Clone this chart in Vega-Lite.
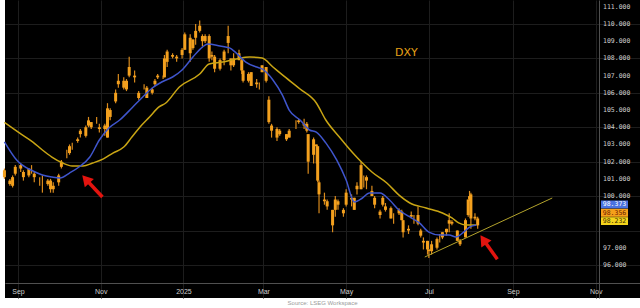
{
  "$schema": "https://vega.github.io/schema/vega-lite/v6.json",
  "width": 635,
  "height": 298,
  "autosize": {"type": "none"},
  "padding": {"left": 5, "top": 0, "right": 0, "bottom": 10},
  "background": "white",
  "config": {"view": {"fill": "black", "stroke": null}, "font": "Liberation Sans"},
  "title": {"text": "Source: LSEG Workspace", "orient": "bottom", "anchor": "middle", "fontSize": 6, "color": "#9a9a9a", "fontWeight": "normal", "offset": 2},
  "datasets": {
    "candles": [
      {"d":"2024-08-22","o":101.1,"h":101.6,"l":101.0,"c":101.5},
      {"d":"2024-08-26","o":100.7,"h":101.0,"l":100.6,"c":100.9},
      {"d":"2024-08-28","o":100.6,"h":101.2,"l":100.5,"c":101.1},
      {"d":"2024-08-30","o":101.3,"h":101.8,"l":101.2,"c":101.7},
      {"d":"2024-09-03","o":101.6,"h":101.9,"l":101.4,"c":101.8},
      {"d":"2024-09-05","o":101.4,"h":101.5,"l":100.9,"c":101.1},
      {"d":"2024-09-09","o":101.2,"h":101.6,"l":101.1,"c":101.6},
      {"d":"2024-09-11","o":101.6,"h":101.8,"l":101.3,"c":101.6},
      {"d":"2024-09-13","o":101.3,"h":101.4,"l":100.8,"c":101.1},
      {"d":"2024-09-17","o":100.9,"h":101.1,"l":100.6,"c":100.9},
      {"d":"2024-09-19","o":100.6,"h":101.2,"l":100.2,"c":100.6},
      {"d":"2024-09-23","o":100.7,"h":101.0,"l":100.6,"c":100.9},
      {"d":"2024-09-25","o":100.4,"h":101.0,"l":100.2,"c":100.9},
      {"d":"2024-09-27","o":100.6,"h":100.8,"l":100.2,"c":100.4},
      {"d":"2024-10-01","o":100.8,"h":101.3,"l":100.6,"c":101.2},
      {"d":"2024-10-03","o":101.7,"h":102.1,"l":101.6,"c":102.0},
      {"d":"2024-10-07","o":102.5,"h":102.7,"l":102.2,"c":102.5},
      {"d":"2024-10-09","o":102.5,"h":103.0,"l":102.4,"c":102.9},
      {"d":"2024-10-11","o":102.9,"h":103.1,"l":102.7,"c":102.9},
      {"d":"2024-10-15","o":103.2,"h":103.4,"l":103.1,"c":103.3},
      {"d":"2024-10-17","o":103.6,"h":103.9,"l":103.4,"c":103.8},
      {"d":"2024-10-21","o":103.5,"h":104.1,"l":103.4,"c":104.0},
      {"d":"2024-10-23","o":104.1,"h":104.6,"l":104.0,"c":104.4},
      {"d":"2024-10-25","o":104.0,"h":104.3,"l":103.9,"c":104.3},
      {"d":"2024-10-29","o":104.3,"h":104.6,"l":104.2,"c":104.3},
      {"d":"2024-10-31","o":104.0,"h":104.2,"l":103.7,"c":103.9},
      {"d":"2024-11-04","o":104.1,"h":104.2,"l":103.5,"c":103.9},
      {"d":"2024-11-06","o":103.4,"h":105.4,"l":103.4,"c":105.1},
      {"d":"2024-11-08","o":104.6,"h":105.1,"l":104.4,"c":105.0},
      {"d":"2024-11-12","o":105.5,"h":106.2,"l":105.4,"c":106.0},
      {"d":"2024-11-14","o":106.5,"h":107.1,"l":106.3,"c":106.7},
      {"d":"2024-11-18","o":106.7,"h":106.9,"l":106.2,"c":106.3},
      {"d":"2024-11-20","o":106.2,"h":106.8,"l":106.1,"c":106.7},
      {"d":"2024-11-22","o":107.0,"h":108.1,"l":106.9,"c":107.5},
      {"d":"2024-11-26","o":107.0,"h":107.3,"l":106.6,"c":106.9},
      {"d":"2024-11-29","o":106.0,"h":106.1,"l":105.6,"c":105.7},
      {"d":"2024-12-03","o":106.4,"h":106.5,"l":106.2,"c":106.4},
      {"d":"2024-12-05","o":106.3,"h":106.4,"l":105.8,"c":105.7},
      {"d":"2024-12-09","o":106.0,"h":106.3,"l":105.9,"c":106.2},
      {"d":"2024-12-11","o":106.5,"h":106.8,"l":106.4,"c":106.7},
      {"d":"2024-12-13","o":106.9,"h":107.1,"l":106.8,"c":107.0},
      {"d":"2024-12-17","o":106.9,"h":107.0,"l":106.8,"c":106.9},
      {"d":"2024-12-18","o":106.9,"h":108.2,"l":106.9,"c":108.0},
      {"d":"2024-12-20","o":108.4,"h":108.5,"l":107.5,"c":107.8},
      {"d":"2024-12-24","o":108.1,"h":108.3,"l":108.0,"c":108.2},
      {"d":"2024-12-27","o":108.1,"h":108.2,"l":107.8,"c":108.0},
      {"d":"2024-12-31","o":108.2,"h":108.6,"l":108.0,"c":108.5},
      {"d":"2025-01-02","o":108.5,"h":109.5,"l":108.5,"c":109.4},
      {"d":"2025-01-06","o":109.2,"h":109.4,"l":107.8,"c":108.3},
      {"d":"2025-01-08","o":108.6,"h":109.1,"l":108.5,"c":109.1},
      {"d":"2025-01-10","o":109.2,"h":110.0,"l":108.8,"c":109.6},
      {"d":"2025-01-13","o":109.6,"h":110.2,"l":109.5,"c":109.9},
      {"d":"2025-01-15","o":109.3,"h":109.4,"l":108.7,"c":109.0},
      {"d":"2025-01-17","o":109.0,"h":109.4,"l":108.9,"c":109.3},
      {"d":"2025-01-20","o":109.3,"h":109.4,"l":107.8,"c":108.0},
      {"d":"2025-01-22","o":108.1,"h":108.4,"l":107.9,"c":108.2},
      {"d":"2025-01-24","o":108.1,"h":108.2,"l":107.2,"c":107.4},
      {"d":"2025-01-28","o":107.4,"h":108.0,"l":107.3,"c":107.9},
      {"d":"2025-01-31","o":107.9,"h":108.5,"l":107.6,"c":108.4},
      {"d":"2025-02-03","o":109.3,"h":109.9,"l":108.3,"c":108.9},
      {"d":"2025-02-05","o":108.0,"h":108.0,"l":107.3,"c":107.6},
      {"d":"2025-02-07","o":107.6,"h":108.3,"l":107.5,"c":108.0},
      {"d":"2025-02-11","o":108.3,"h":108.5,"l":107.9,"c":107.9},
      {"d":"2025-02-13","o":107.9,"h":108.0,"l":107.1,"c":107.3},
      {"d":"2025-02-14","o":107.3,"h":107.3,"l":106.6,"c":106.7},
      {"d":"2025-02-18","o":106.7,"h":107.2,"l":106.6,"c":107.1},
      {"d":"2025-02-20","o":107.2,"h":107.2,"l":106.4,"c":106.4},
      {"d":"2025-02-24","o":106.5,"h":106.8,"l":106.3,"c":106.6},
      {"d":"2025-02-26","o":106.4,"h":106.6,"l":106.2,"c":106.4},
      {"d":"2025-02-28","o":107.2,"h":107.6,"l":107.2,"c":107.6},
      {"d":"2025-03-03","o":107.5,"h":107.5,"l":106.6,"c":106.7},
      {"d":"2025-03-05","o":105.6,"h":105.8,"l":104.2,"c":104.3},
      {"d":"2025-03-07","o":104.1,"h":104.2,"l":103.4,"c":103.8},
      {"d":"2025-03-11","o":103.9,"h":104.0,"l":103.2,"c":103.4},
      {"d":"2025-03-13","o":103.6,"h":103.9,"l":103.5,"c":103.8},
      {"d":"2025-03-18","o":103.6,"h":103.6,"l":103.2,"c":103.3},
      {"d":"2025-03-20","o":103.4,"h":103.9,"l":103.4,"c":103.8},
      {"d":"2025-03-25","o":104.2,"h":104.4,"l":103.9,"c":104.2},
      {"d":"2025-03-27","o":104.4,"h":104.5,"l":104.2,"c":104.3},
      {"d":"2025-03-31","o":104.1,"h":104.5,"l":103.9,"c":104.2},
      {"d":"2025-04-02","o":104.2,"h":104.3,"l":103.7,"c":103.8},
      {"d":"2025-04-03","o":103.6,"h":103.6,"l":101.3,"c":102.0},
      {"d":"2025-04-07","o":102.4,"h":103.4,"l":101.9,"c":103.3},
      {"d":"2025-04-09","o":103.0,"h":103.0,"l":101.9,"c":102.9},
      {"d":"2025-04-10","o":102.9,"h":102.9,"l":100.8,"c":100.9},
      {"d":"2025-04-11","o":100.8,"h":100.9,"l":99.0,"c":100.1},
      {"d":"2025-04-15","o":99.7,"h":100.2,"l":99.5,"c":99.8},
      {"d":"2025-04-17","o":99.7,"h":99.8,"l":99.2,"c":99.4},
      {"d":"2025-04-21","o":99.2,"h":99.2,"l":97.9,"c":98.3},
      {"d":"2025-04-23","o":99.2,"h":100.0,"l":98.8,"c":99.8},
      {"d":"2025-04-25","o":99.7,"h":99.8,"l":99.2,"c":99.5},
      {"d":"2025-04-29","o":99.0,"h":99.3,"l":98.8,"c":99.2},
      {"d":"2025-05-01","o":99.5,"h":100.4,"l":99.4,"c":100.2},
      {"d":"2025-05-05","o":99.9,"h":100.1,"l":99.4,"c":99.8},
      {"d":"2025-05-07","o":99.2,"h":99.9,"l":99.2,"c":99.9},
      {"d":"2025-05-09","o":100.6,"h":100.8,"l":100.1,"c":100.4},
      {"d":"2025-05-12","o":100.4,"h":102.0,"l":100.4,"c":101.8},
      {"d":"2025-05-14","o":101.0,"h":101.2,"l":100.5,"c":101.0},
      {"d":"2025-05-16","o":100.9,"h":101.2,"l":100.4,"c":101.1},
      {"d":"2025-05-20","o":100.3,"h":100.6,"l":100.0,"c":100.0},
      {"d":"2025-05-22","o":99.5,"h":100.0,"l":99.3,"c":99.9},
      {"d":"2025-05-26","o":99.1,"h":99.2,"l":98.7,"c":98.9},
      {"d":"2025-05-28","o":99.5,"h":100.0,"l":99.4,"c":99.9},
      {"d":"2025-05-30","o":99.2,"h":99.6,"l":99.1,"c":99.4},
      {"d":"2025-06-03","o":98.7,"h":99.4,"l":98.7,"c":99.3},
      {"d":"2025-06-05","o":98.8,"h":99.0,"l":98.4,"c":98.8},
      {"d":"2025-06-09","o":99.2,"h":99.3,"l":98.9,"c":99.0},
      {"d":"2025-06-11","o":99.1,"h":99.2,"l":98.6,"c":98.6},
      {"d":"2025-06-12","o":98.6,"h":98.6,"l":97.6,"c":97.9},
      {"d":"2025-06-16","o":98.1,"h":98.3,"l":97.8,"c":98.0},
      {"d":"2025-06-18","o":98.8,"h":99.1,"l":98.7,"c":98.9},
      {"d":"2025-06-20","o":98.7,"h":98.9,"l":98.4,"c":98.7},
      {"d":"2025-06-23","o":98.9,"h":99.4,"l":98.3,"c":98.4},
      {"d":"2025-06-25","o":98.0,"h":98.1,"l":97.6,"c":97.7},
      {"d":"2025-06-27","o":97.3,"h":97.6,"l":96.9,"c":97.4},
      {"d":"2025-06-30","o":97.4,"h":97.4,"l":96.6,"c":96.9},
      {"d":"2025-07-01","o":96.9,"h":96.9,"l":96.4,"c":96.8},
      {"d":"2025-07-03","o":96.8,"h":97.4,"l":96.6,"c":97.2},
      {"d":"2025-07-07","o":97.0,"h":97.6,"l":96.9,"c":97.5},
      {"d":"2025-07-09","o":97.5,"h":97.8,"l":97.3,"c":97.5},
      {"d":"2025-07-11","o":97.6,"h":97.9,"l":97.5,"c":97.9},
      {"d":"2025-07-14","o":97.9,"h":98.1,"l":97.7,"c":98.1},
      {"d":"2025-07-16","o":98.6,"h":99.0,"l":97.9,"c":98.4},
      {"d":"2025-07-18","o":98.4,"h":98.6,"l":98.3,"c":98.5},
      {"d":"2025-07-22","o":98.0,"h":98.0,"l":97.4,"c":97.4},
      {"d":"2025-07-24","o":97.2,"h":97.5,"l":97.1,"c":97.4},
      {"d":"2025-07-28","o":97.6,"h":98.7,"l":97.6,"c":98.6},
      {"d":"2025-07-30","o":98.9,"h":99.8,"l":98.8,"c":99.8},
      {"d":"2025-07-31","o":99.8,"h":100.3,"l":99.7,"c":100.0},
      {"d":"2025-08-01","o":100.1,"h":100.2,"l":98.1,"c":98.7},
      {"d":"2025-08-04","o":98.7,"h":99.0,"l":98.6,"c":98.8},
      {"d":"2025-08-06","o":98.7,"h":98.8,"l":98.1,"c":98.3}
    ],
    "blue": [
      {"d":"2024-08-22","v":103.15},{"d":"2024-08-31","v":102.10},{"d":"2024-09-04","v":101.81},{"d":"2024-09-12","v":101.46},
      {"d":"2024-09-19","v":101.23},{"d":"2024-09-26","v":101.11},{"d":"2024-10-02","v":101.05},{"d":"2024-10-09","v":101.34},
      {"d":"2024-10-16","v":101.69},{"d":"2024-10-24","v":102.27},{"d":"2024-10-31","v":103.26},{"d":"2024-11-07","v":103.96},
      {"d":"2024-11-15","v":104.42},{"d":"2024-11-24","v":105.12},{"d":"2024-12-02","v":105.76},{"d":"2024-12-09","v":106.28},
      {"d":"2024-12-16","v":106.63},{"d":"2024-12-24","v":106.92},{"d":"2024-12-31","v":107.33},{"d":"2025-01-08","v":108.08},
      {"d":"2025-01-15","v":108.66},{"d":"2025-01-19","v":108.84},{"d":"2025-01-28","v":108.72},{"d":"2025-02-04","v":108.61},
      {"d":"2025-02-09","v":108.31},{"d":"2025-02-16","v":107.79},{"d":"2025-02-24","v":107.50},{"d":"2025-02-28","v":107.39},
      {"d":"2025-03-08","v":106.75},{"d":"2025-03-15","v":105.87},{"d":"2025-03-20","v":105.00},{"d":"2025-03-28","v":104.42},
      {"d":"2025-04-04","v":103.84},{"d":"2025-04-09","v":103.72},{"d":"2025-04-16","v":103.09},{"d":"2025-04-24","v":102.10},
      {"d":"2025-05-01","v":100.94},{"d":"2025-05-07","v":99.66},{"d":"2025-05-13","v":99.89},{"d":"2025-05-18","v":100.18},
      {"d":"2025-05-26","v":100.18},{"d":"2025-06-02","v":99.77},{"d":"2025-06-09","v":99.19},{"d":"2025-06-17","v":98.79},
      {"d":"2025-06-24","v":98.44},{"d":"2025-07-01","v":97.91},{"d":"2025-07-09","v":97.74},{"d":"2025-07-16","v":97.74},
      {"d":"2025-07-21","v":97.62},{"d":"2025-07-26","v":97.86},{"d":"2025-07-31","v":98.20},{"d":"2025-08-05","v":98.32}
    ],
    "yellow": [
      {"d":"2024-08-22","v":104.28},{"d":"2024-09-02","v":103.67},{"d":"2024-09-12","v":103.14},{"d":"2024-09-19","v":102.68},
      {"d":"2024-09-26","v":102.27},{"d":"2024-10-04","v":101.92},{"d":"2024-10-11","v":101.75},{"d":"2024-10-19","v":101.75},
      {"d":"2024-10-26","v":101.92},{"d":"2024-11-03","v":102.16},{"d":"2024-11-10","v":102.50},{"d":"2024-11-18","v":102.85},
      {"d":"2024-11-24","v":103.43},{"d":"2024-11-30","v":104.02},{"d":"2024-12-07","v":104.60},{"d":"2024-12-14","v":105.18},
      {"d":"2024-12-19","v":105.41},{"d":"2024-12-29","v":106.34},{"d":"2025-01-13","v":107.09},{"d":"2025-01-20","v":107.68},
      {"d":"2025-01-30","v":107.79},{"d":"2025-02-09","v":107.97},{"d":"2025-02-19","v":108.08},{"d":"2025-02-28","v":108.02},
      {"d":"2025-03-08","v":107.50},{"d":"2025-03-15","v":107.04},{"d":"2025-03-28","v":106.22},{"d":"2025-04-09","v":105.41},
      {"d":"2025-04-16","v":104.42},{"d":"2025-04-26","v":103.43},{"d":"2025-05-06","v":102.50},{"d":"2025-05-13","v":101.92},
      {"d":"2025-05-20","v":101.40},{"d":"2025-05-31","v":100.76},{"d":"2025-06-09","v":100.06},{"d":"2025-06-17","v":99.60},
      {"d":"2025-06-29","v":99.31},{"d":"2025-07-11","v":99.02},{"d":"2025-07-18","v":98.73},{"d":"2025-07-23","v":98.44},
      {"d":"2025-07-28","v":98.32},{"d":"2025-08-05","v":98.32}
    ],
    "trend": [
      {"d":"2025-06-28","v":96.46},{"d":"2025-09-30","v":99.89}
    ],
    "arrows": [
      {"id":1,"d":"2024-11-02T06:00:00Z","v":99.95,"d2":"2024-10-21T00:00:00Z","v2":100.98},
      {"id":2,"d":"2025-08-20T12:00:00Z","v":96.33,"d2":"2025-08-10T06:00:00Z","v2":97.47}
    ],
    "labels": [
      {"d":"2025-06-06","v":108.31,"t":"DXY"}
    ],
    "ylabels": [
      {"v":96},{"v":97},{"v":100},{"v":101},{"v":102},{"v":103},{"v":104},{"v":105},{"v":106},{"v":107},{"v":108},{"v":109},{"v":110},{"v":111}
    ],
    "tags": [
      {"k":"b","t":"98.373","d":"2025-11-04T22:00:00Z","d2":"2025-11-24T21:00:00Z","dm":"2025-11-14T21:00:00Z","v":99.744,"v2":99.28,"vm":99.512},
      {"k":"o","t":"98.356","d":"2025-11-04T22:00:00Z","d2":"2025-11-24T21:00:00Z","dm":"2025-11-14T21:00:00Z","v":99.262,"v2":98.797,"vm":99.03},
      {"k":"y","t":"98.232","d":"2025-11-04T22:00:00Z","d2":"2025-11-24T21:00:00Z","dm":"2025-11-14T21:00:00Z","v":98.774,"v2":98.321,"vm":98.55}
    ]
  },
  "layer": [
    {
      "data": {"name": "candles"},
      "mark": {"type": "rule", "color": "#d98a1c", "strokeWidth": 1.2},
      "encoding": {
        "x": {"field": "d", "type": "temporal",
          "scale": {"type": "utc", "domain": [{"year":2024,"month":8,"date":22,"hours":10,"utc":true},{"year":2025,"month":12,"date":3,"hours":17,"utc":true}]},
          "axis": {"title": null, "orient": "bottom", "offset": -15,
            "values": [{"year":2024,"month":9,"date":1,"utc":true},{"year":2024,"month":11,"date":1,"utc":true},{"year":2025,"month":1,"date":1,"utc":true},{"year":2025,"month":3,"date":1,"utc":true},{"year":2025,"month":5,"date":1,"utc":true},{"year":2025,"month":7,"date":1,"utc":true},{"year":2025,"month":9,"date":1,"utc":true},{"year":2025,"month":11,"date":1,"utc":true}],
            "labelExpr": "utcFormat(datum.value,'%m')=='01' ? utcFormat(datum.value,'%Y') : utcFormat(datum.value,'%b')",
            "ticks": false, "domainColor": "#505050", "gridColor": "#1d1d1d", "grid": true,
            "labelColor": "#cfcfcf", "labelFontSize": 7, "labelPadding": 4, "labelAlign": "center",
            "labelFlush": false, "labelOverlap": false, "labelBound": false}},
        "y": {"field": "l", "type": "quantitative",
          "scale": {"domain": [94.079, 111.394], "nice": false, "zero": false},
          "axis": {"title": null, "orient": "right", "offset": -41,
            "values": [96,97,98,99,100,101,102,103,104,105,106,107,108,109,110,111],
            "labels": false, "ticks": false, "domainColor": "#505050", "gridColor": "#1d1d1d", "grid": true}},
        "y2": {"field": "h"}
      }
    },
    {
      "data": {"name": "candles"},
      "mark": {"type": "rule", "color": "#f3a01e", "strokeWidth": 3},
      "encoding": {
        "x": {"field": "d", "type": "temporal"},
        "y": {"field": "o", "type": "quantitative"},
        "y2": {"field": "c"}
      }
    },
    {
      "data": {"name": "yellow"},
      "mark": {"type": "line", "color": "#c9a514", "strokeWidth": 1.5, "interpolate": "monotone"},
      "encoding": {
        "x": {"field": "d", "type": "temporal"},
        "y": {"field": "v", "type": "quantitative"}
      }
    },
    {
      "data": {"name": "blue"},
      "mark": {"type": "line", "color": "#3f55cc", "strokeWidth": 1.5, "interpolate": "monotone"},
      "encoding": {
        "x": {"field": "d", "type": "temporal"},
        "y": {"field": "v", "type": "quantitative"}
      }
    },
    {
      "data": {"name": "trend"},
      "mark": {"type": "line", "color": "#b3a32c", "strokeWidth": 1},
      "encoding": {
        "x": {"field": "d", "type": "temporal"},
        "y": {"field": "v", "type": "quantitative"}
      }
    },
    {
      "data": {"name": "arrows"},
      "mark": {"type": "rule", "color": "#e3140f", "strokeWidth": 3.5},
      "encoding": {
        "x": {"field": "d", "type": "temporal"},
        "y": {"field": "v", "type": "quantitative"},
        "x2": {"field": "d2"},
        "y2": {"field": "v2"}
      }
    },
    {
      "data": {"name": "arrows"},
      "transform": [{"filter": "datum.id == 1"}],
      "mark": {"type": "point", "shape": "triangle-up", "filled": true, "color": "#e3140f", "opacity": 1, "size": 150, "angle": 318},
      "encoding": {
        "x": {"field": "d2", "type": "temporal"},
        "y": {"field": "v2", "type": "quantitative"}
      }
    },
    {
      "data": {"name": "arrows"},
      "transform": [{"filter": "datum.id == 2"}],
      "mark": {"type": "point", "shape": "triangle-up", "filled": true, "color": "#e3140f", "opacity": 1, "size": 150, "angle": 326},
      "encoding": {
        "x": {"field": "d2", "type": "temporal"},
        "y": {"field": "v2", "type": "quantitative"}
      }
    },
    {
      "data": {"name": "labels"},
      "mark": {"type": "text", "color": "#e8a317", "fontSize": 11, "align": "left", "baseline": "middle", "font": "DejaVu Sans"},
      "encoding": {
        "x": {"field": "d", "type": "temporal"},
        "y": {"field": "v", "type": "quantitative"},
        "text": {"field": "t"}
      }
    },
    {
      "data": {"name": "ylabels"},
      "mark": {"type": "text", "color": "#cfcfcf", "fontSize": 6.5, "font": "DejaVu Sans Mono", "align": "left", "baseline": "middle"},
      "encoding": {
        "x": {"datum": {"year":2025,"month":11,"date":6,"hours":10,"utc":true}, "type": "temporal"},
        "y": {"field": "v", "type": "quantitative"},
        "text": {"field": "v", "type": "quantitative", "format": ".3f"}
      }
    },
    {
      "data": {"name": "tags"},
      "mark": {"type": "rect"},
      "encoding": {
        "x": {"field": "d", "type": "temporal"},
        "x2": {"field": "d2"},
        "y": {"field": "v", "type": "quantitative"},
        "y2": {"field": "v2"},
        "color": {"field": "k", "type": "nominal", "scale": {"domain": ["b","o","y"], "range": ["#4a72e0","#f5a01a","#f4d41c"]}, "legend": null}
      }
    },
    {
      "data": {"name": "tags"},
      "mark": {"type": "text", "fontSize": 6.5, "font": "DejaVu Sans Mono", "align": "center", "baseline": "middle"},
      "encoding": {
        "x": {"field": "dm", "type": "temporal"},
        "y": {"field": "vm", "type": "quantitative"},
        "text": {"field": "t"},
        "color": {"field": "k", "type": "nominal", "scale": {"domain": ["b","o","y"], "range": ["#ffffff","#6a1a00","#3a2a00"]}, "legend": null}
      }
    }
  ],
  "resolve": {"scale": {"color": "independent"}}
}
